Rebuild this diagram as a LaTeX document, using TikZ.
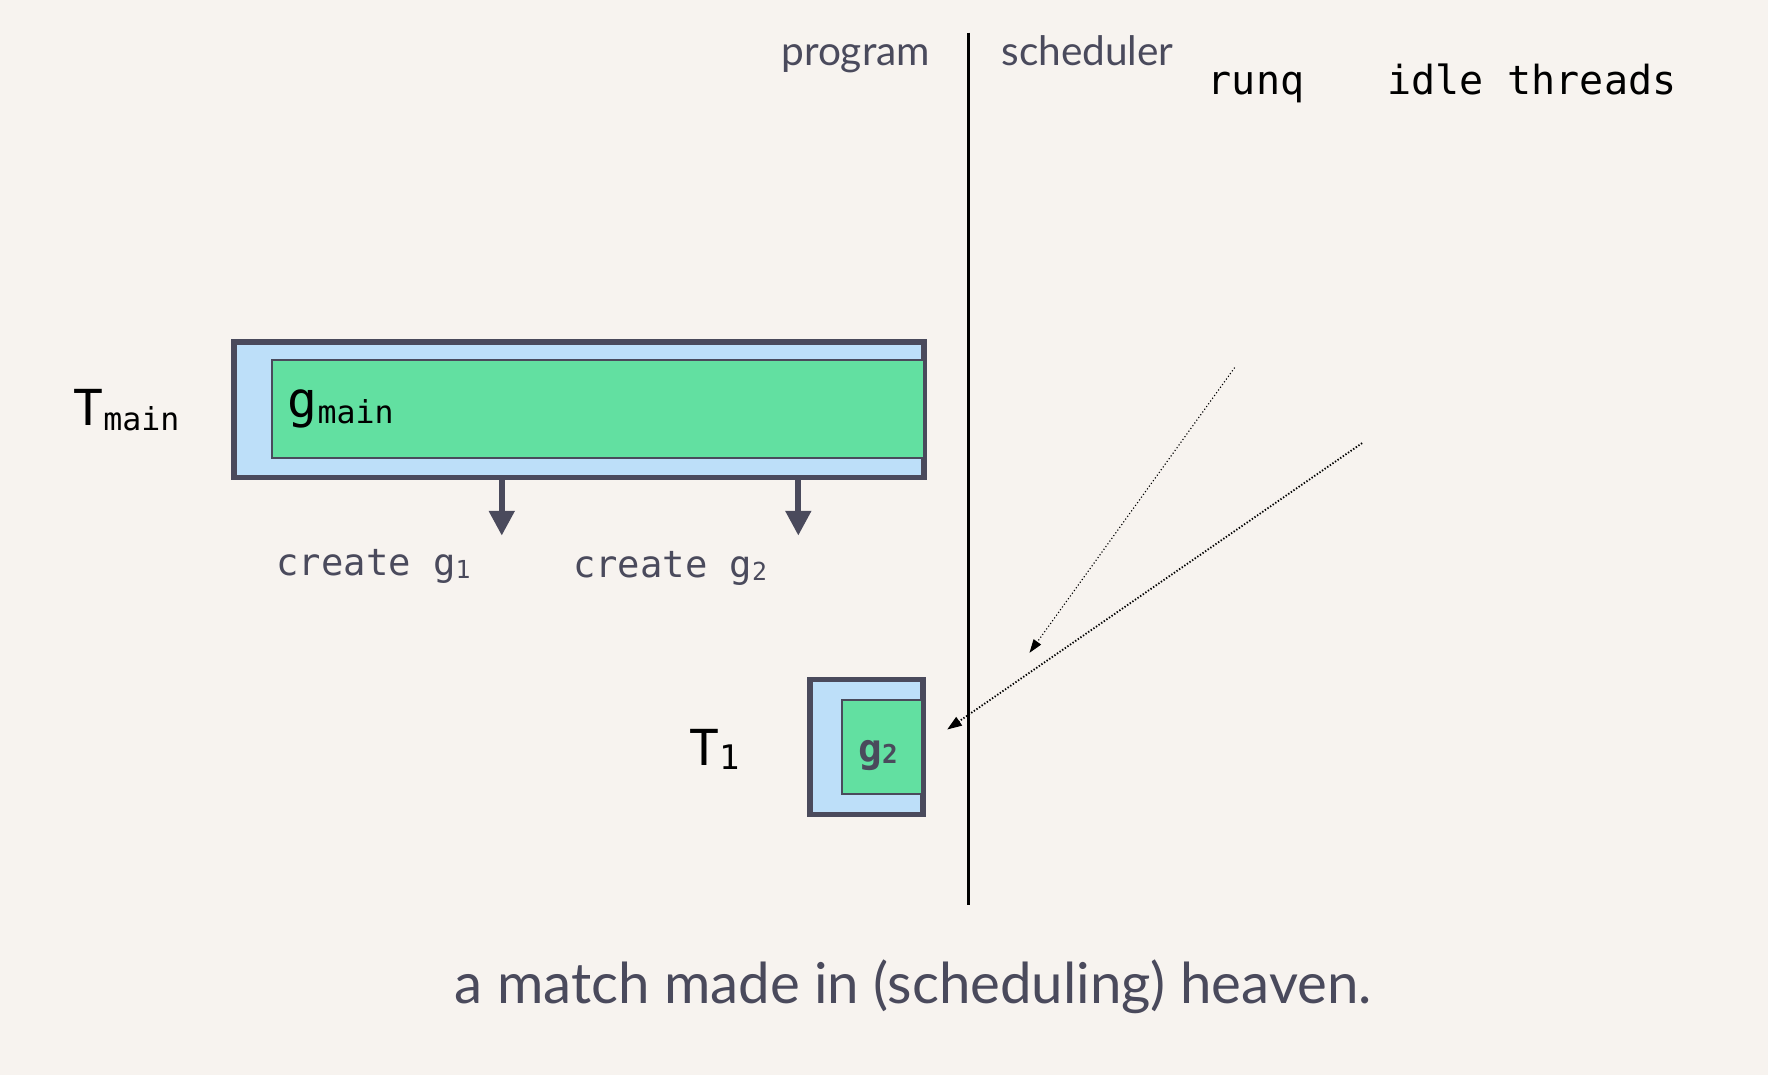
\documentclass[tikz,border=0pt]{standalone}
\usepackage{fontspec}
\setmainfont{Lato}
\newfontfamily\monof{DejaVu Sans Mono}
\usetikzlibrary{arrows.meta}
\definecolor{bg}{RGB}{247,243,239}
\definecolor{dk}{RGB}{74,74,92}
\definecolor{lblue}{RGB}{189,223,249}
\definecolor{lgreen}{RGB}{98,224,161}
\tikzset{
  threadbox/.style={draw=dk,line width=5pt,fill=lblue,inner sep=0pt},
  gbox/.style={draw=dk,line width=2pt,fill=lgreen,inner sep=0pt},
  bigarrow/.style={draw=dk,line width=5pt,-{Triangle[width=22pt,length=22pt]},fill=dk},
  dotarrow/.style={dotted,line width=1pt,-{Triangle[width=8pt,length=12pt]}},
  dotarrowb/.style={dash pattern=on 1.2pt off 1.6pt,line width=1.6pt,-{Triangle[width=9pt,length=13pt]}},
  lbl/.style={inner sep=0pt,anchor=base west},
}
\begin{document}
\begin{tikzpicture}[x=1pt,y=-1pt]
\fill[bg] (0,0) rectangle (1568,953);
\useasboundingbox (0,0) rectangle (1568,953);
% divider
\coordinate (vtop) at (859,29);
\coordinate (vbot) at (859,803);
\draw[line width=2pt,black] (vtop) -- (vbot);
\node[lbl,anchor=base east,text=dk] (prog) at (825,58) {\fontsize{36}{36}\selectfont program};
\node[lbl,text=dk] (sched) at (888,58) {\fontsize{36}{36}\selectfont scheduler};
\node[lbl] (runq) at (1071,84) {\monof\fontsize{35.5}{35.5}\selectfont runq};
\node[lbl] (idle) at (1230,84) {\monof\fontsize{35.5}{35.5}\selectfont idle threads};
% Tmain
\node[threadbox,minimum width=612pt,minimum height=120pt] (tmain) at (513.5,363.5) {};
\node[gbox,minimum width=579pt,minimum height=87pt] (gmain) at (530.5,362.5) {};
\node[lbl] (gmainlbl) at (255,370) {\monof\fontsize{44}{44}\selectfont g\raisebox{-6pt}{\fontsize{28}{28}\selectfont main}};
\node[lbl] (tmainlbl) at (65,377) {\monof\fontsize{44}{44}\selectfont T\raisebox{-5pt}{\fontsize{28}{28}\selectfont main}};
% create arrows
\coordinate (c1) at (445,475);
\coordinate (c2) at (708,475);
\draw[bigarrow] (tmain.south -| c1) -- (c1);
\draw[bigarrow] (tmain.south -| c2) -- (c2);
\node[lbl,text=dk] (cg1) at (245,510) {\monof\fontsize{33}{33}\selectfont create g\raisebox{-3pt}{\fontsize{22}{22}\selectfont 1}};
\node[lbl,text=dk] (cg2) at (508,512) {\monof\fontsize{33}{33}\selectfont create g\raisebox{-3pt}{\fontsize{22}{22}\selectfont 2}};
% T1
\node[threadbox,minimum width=100pt,minimum height=120pt] (t1) at (768.5,662.5) {};
\node[gbox,minimum width=71pt,minimum height=83pt] (g2) at (782.5,662.5) {};
\node[lbl,text=dk] (g2lbl) at (761,676) {\monof\bfseries\fontsize{35}{35}\selectfont g\raisebox{-1pt}{\fontsize{23}{23}\selectfont 2}};
\node[lbl] (t1lbl) at (611,679) {\monof\fontsize{44}{44}\selectfont T\raisebox{-3pt}{\fontsize{30}{30}\selectfont 1}};
% dotted arrows
\coordinate (a1s) at (1095,326);
\coordinate (a1e) at (913,579);
\coordinate (a2s) at (1208,393);
\coordinate (a2e) at (840,647);
\draw[dotarrow] (a1s) -- (a1e);
\draw[dotarrowb] (a2s) -- (a2e);
% caption
\node[lbl,text=dk] (cap) at (403,890) {\fontsize{50}{50}\selectfont a match made in (scheduling) heaven.};
\end{tikzpicture}
\end{document}
